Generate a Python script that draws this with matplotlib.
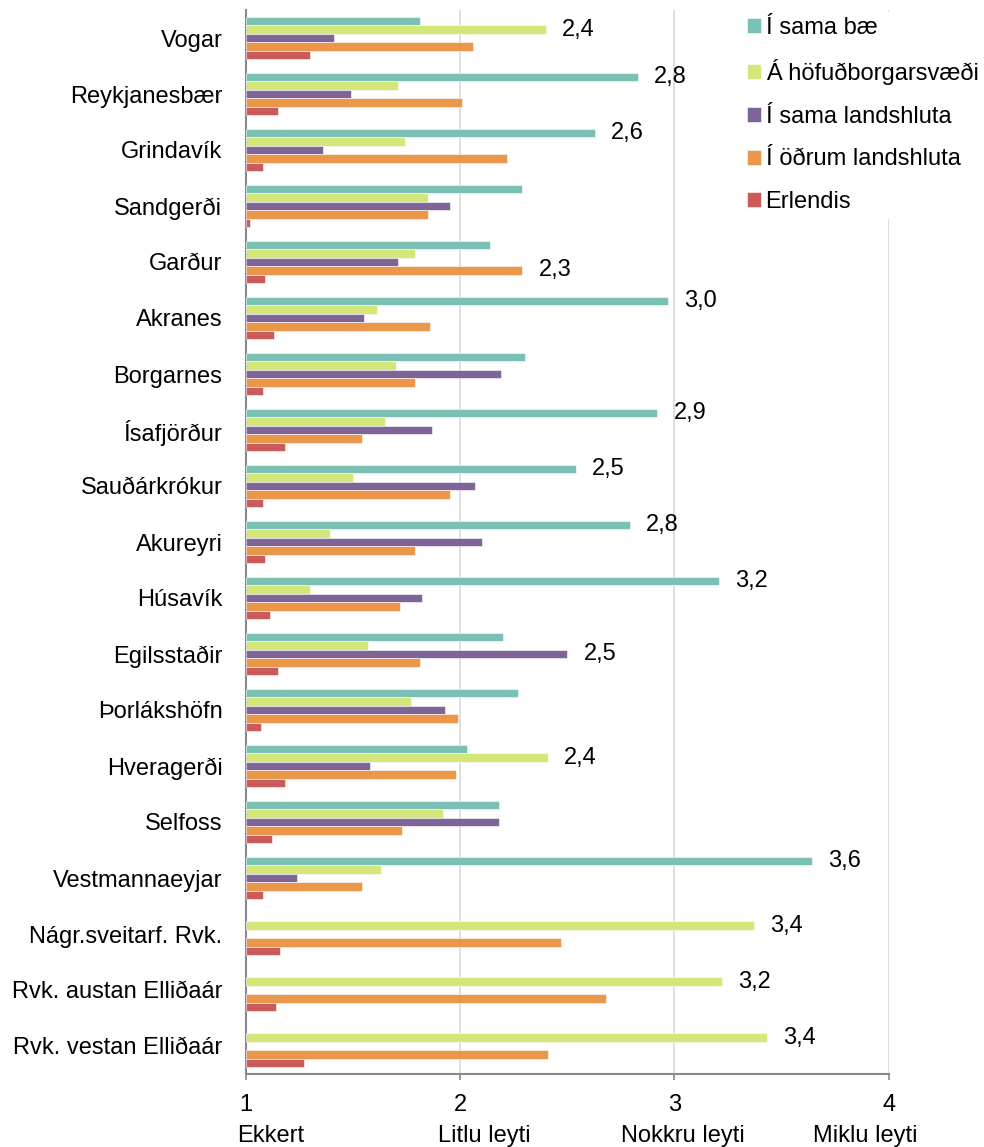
import numpy as np
import matplotlib
matplotlib.use("Agg")
from matplotlib import pyplot as plt
from matplotlib import transforms

nan = np.nan

categories = ["Vogar", "Reykjanesbær", "Grindavík", "Sandgerði", "Garður",
              "Akranes", "Borgarnes", "Ísafjörður", "Sauðárkrókur", "Akureyri",
              "Húsavík", "Egilsstaðir", "Þorlákshöfn", "Hveragerði", "Selfoss",
              "Vestmannaeyjar", "Nágr.sveitarf. Rvk.", "Rvk. austan Elliðaár",
              "Rvk. vestan Elliðaár"]

series_names = ["Í sama bæ", "Á höfuðborgarsvæði", "Í sama landshluta",
                "Í öðrum landshluta", "Erlendis"]

same_town = [1.81, 2.83, 2.63, 2.29, 2.14, 2.97, 2.30, 2.92, 2.54, 2.79,
             3.21, 2.20, 2.27, 2.03, 2.18, 3.64, nan, nan, nan]
capital = [2.40, 1.71, 1.74, 1.85, 1.79, 1.61, 1.70, 1.65, 1.50, 1.39,
           1.30, 1.57, 1.77, 2.41, 1.92, 1.63, 3.37, 3.22, 3.43]
same_region = [1.41, 1.49, 1.36, 1.95, 1.71, 1.55, 2.19, 1.87, 2.07, 2.10,
               1.82, 2.50, 1.93, 1.58, 2.18, 1.24, nan, nan, nan]
other_region = [2.06, 2.01, 2.22, 1.85, 2.29, 1.86, 1.79, 1.54, 1.95, 1.79,
                1.72, 1.81, 1.99, 1.98, 1.73, 1.54, 2.47, 2.68, 2.41]
abroad = [1.30, 1.15, 1.08, 1.02, 1.09, 1.13, 1.08, 1.18, 1.08, 1.09,
          1.11, 1.15, 1.07, 1.18, 1.12, 1.08, 1.16, 1.14, 1.27]

# which series carries the value label in each group (None = no label)
label_series = [1, 0, 0, None, 3, 0, None, 0, 0, 0,
                0, 2, None, 1, None, 0, 1, 1, 1]

x_ticks = [1, 2, 3, 4]
x_words = ["Ekkert", "Litlu leyti", "Nokkru leyti", "Miklu leyti"]

colors = ["#7BC0B5", "#D5E67A", "#7D6597", "#E9974B", "#CB5A5A"]

plt.rcParams["font.family"] = ["Liberation Sans", "DejaVu Sans"]
plt.rcParams["font.size"] = 17

fig = plt.figure(figsize=(9.84, 11.47), dpi=100)
ax = fig.add_axes([0.25, 1 - 1074 / 1147, 0.6532, (1074 - 10) / 1147])

data = [same_town, capital, same_region, other_region, abroad]
n = len(categories)
y = np.arange(n)
h = 0.149
for k, vals in enumerate(data):
    vals = np.array(vals, dtype=float)
    ax.barh(y + (k - 2) * h, vals - 1, left=1, height=h, color=colors[k],
            edgecolor="white", linewidth=0.4, label=series_names[k], zorder=3)

for i, s in enumerate(label_series):
    if s is None:
        continue
    v = data[s][i]
    ax.text(v + 0.075, y[i] + (s - 2) * h, f"{v:.1f}".replace(".", ","),
            va="center", ha="left", fontsize=17, zorder=4)

ax.set_xlim(1, 4)
ax.set_ylim(n - 0.5, -0.5)
ax.set_yticks(y)
ax.set_yticklabels(categories)
ax.set_xticks(x_ticks)
ax.set_xticklabels([str(t) for t in x_ticks])
ax.tick_params(axis="y", length=0, pad=17)
ax.tick_params(axis="x", length=4.5, width=1.2, color="#898989", pad=10)

ax.grid(axis="x", color="#D9D9D9", linewidth=1.2, zorder=0)
ax.set_axisbelow(True)
for side in ["top", "right"]:
    ax.spines[side].set_visible(False)
for side in ["left", "bottom"]:
    ax.spines[side].set_color("#898989")
    ax.spines[side].set_linewidth(1.5)

# descriptive words under the numeric ticks
word_x = [1.117, 2.113, 3.041, 3.89]
trans = transforms.blended_transform_factory(ax.transData, fig.transFigure)
for wx, w in zip(word_x, x_words):
    ax.text(wx, 1 - 1136 / 1147, w, transform=trans, ha="center", va="center",
            fontsize=17, clip_on=False)

leg = fig.legend(loc="upper left", bbox_to_anchor=(0.754, 0.9895),
                 frameon=True, fancybox=False, framealpha=1, edgecolor="white",
                 handlelength=0.6, handleheight=0.6, handletextpad=0.2,
                 labelspacing=0.87, borderpad=0.2, borderaxespad=0, fontsize=17)
leg.set_zorder(10)

fig.savefig("out.png", dpi=100)
